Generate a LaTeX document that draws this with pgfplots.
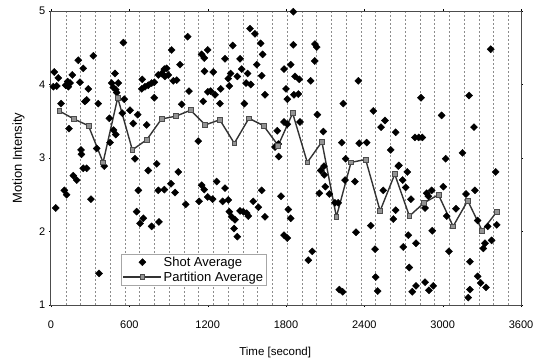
\documentclass[border=0pt]{standalone}
\usepackage{fontspec}
\setmainfont{Liberation Sans}
\usepackage{pgfplots}
\usepackage{pgfplotstable}
\pgfplotsset{compat=1.18}
\pgfplotstableread{
t v
25 4.17
56 4.09
18 3.97
44 3.98
77 3.74
138 3.40
113 3.99
128 4.04
146 4.02
163 4.13
133 3.97
209 4.33
222 4.03
247 4.22
286 3.94
273 3.79
260 3.77
324 4.39
362 3.74
350 3.13
230 3.11
233 3.05
452 3.21
447 3.54
490 4.15
465 4.02
477 3.96
515 4.02
496 3.93
503 3.89
554 4.57
561 3.80
546 3.61
605 3.65
630 3.47
664 3.59
479 3.38
496 3.32
643 2.99
699 4.07
720 3.97
695 3.94
745 3.99
771 4.02
791 4.03
791 3.82
733 3.45
822 4.13
848 4.15
868 4.21
886 4.22
873 4.11
898 4.13
924 4.47
937 4.05
963 4.06
988 4.27
1001 3.73
1047 4.65
1057 3.91
1128 3.23
1154 4.41
1174 4.36
1200 4.47
1176 4.18
1166 3.77
1201 3.90
36 2.32
102 2.56
120 2.50
171 2.76
197 2.70
247 2.86
273 2.86
306 2.44
368 1.43
408 2.89
745 2.83
810 2.92
669 2.56
656 2.27
707 2.18
682 2.11
771 2.07
827 2.13
822 2.56
868 2.57
919 2.65
950 2.53
975 2.81
1032 2.37
1134 2.41
1154 2.63
1174 2.57
1200 2.47
1243 4.17
1223 3.91
1256 3.86
1300 3.94
1294 3.74
1333 4.35
1392 4.53
1358 4.08
1376 4.15
1366 3.98
1448 4.35
1427 4.11
1461 4.21
1494 4.02
1530 4.00
1506 4.15
1481 3.74
1524 4.76
1562 4.69
1606 4.56
1621 4.41
1576 4.27
1614 4.12
1639 3.86
1733 3.37
1716 3.15
1741 3.19
1744 3.02
1785 4.21
1836 4.27
1856 4.54
1800 3.94
1810 3.80
1861 3.86
1894 3.87
1869 4.11
1902 4.07
1785 3.49
1810 3.46
1907 3.49
1856 4.99
1989 4.05
2022 4.55
2035 4.51
2020 4.32
2040 3.59
2086 3.36
2239 3.74
2227 3.21
2257 2.99
2354 4.05
2361 3.20
2469 3.64
2558 3.51
2528 3.42
2640 3.35
2418 3.21
2602 3.11
2834 3.82
2788 3.28
2816 3.28
2844 3.28
2992 3.58
3023 2.99
3152 3.07
3202 3.85
3240 3.42
3368 4.48
2665 2.90
1238 2.44
1269 2.68
1315 2.41
1358 2.43
1333 2.59
1366 2.27
1384 2.20
1409 2.16
1402 2.04
1427 1.93
1448 2.28
1473 2.27
1499 2.25
1511 2.21
1549 2.41
1588 2.33
1614 2.56
1639 2.20
1762 2.48
1818 2.30
1836 2.18
1785 1.95
1810 1.91
1971 1.61
2001 1.73
2055 2.52
2066 2.83
2091 2.89
2093 2.77
2101 2.61
2132 2.51
2175 2.39
2200 2.39
2208 1.21
2234 1.18
2252 2.70
2328 2.68
2336 1.99
2449 2.08
2482 1.76
2487 1.38
2502 1.19
2545 2.56
2660 2.89
2729 2.81
2694 2.70
2717 2.60
2640 2.29
2622 2.17
2757 2.44
2737 1.95
2698 1.79
2796 1.84
2744 1.51
2767 1.18
2796 1.26
2865 1.31
2895 1.20
2928 1.26
2878 2.52
2890 2.48
2916 2.56
2865 2.32
2920 2.01
3005 2.61
3031 2.21
3048 1.73
3102 2.31
3179 2.51
3247 2.56
3209 1.59
3196 1.10
3209 1.21
3268 1.39
3291 1.30
3332 1.24
3268 2.15
3311 1.77
3324 1.84
3375 1.88
3345 2.07
3414 2.09
3406 2.81
}\shots
\pgfplotstableread{
t v
64 3.64
176 3.53
287 3.44
399 2.94
511 3.82
623 3.11
734 3.25
846 3.53
958 3.57
1069 3.65
1181 3.45
1293 3.52
1404 3.20
1516 3.54
1628 3.44
1740 3.17
1851 3.61
1963 2.94
2075 3.22
2186 2.20
2298 2.94
2410 2.98
2521 2.28
2633 2.78
2745 2.21
2857 2.39
2968 2.50
3080 2.07
3192 2.42
3303 2.01
3415 2.27
}\parts
\begin{document}
\fontsize{10.5}{12}\selectfont
\begin{tikzpicture}
\begin{axis}[
  scale only axis, width=470pt, height=294pt,
  at={(0,0)}, anchor=south west,
  xmin=0, xmax=3600, ymin=1, ymax=5,
  xtick={0,600,...,3600}, ytick={1,2,3,4,5},
  minor xtick={113,226,...,3503},
  xminorgrids,
  minor grid style={dashed, dash pattern=on 2pt off 2pt, gray!90, line width=0.5pt},
  minor tick length=0pt,
  tick align=outside, major tick length=2pt,
  tick style={black},
  axis line style={gray!60!black, line width=1pt},
  /pgf/number format/assume math mode=true,
  /pgf/number format/set thousands separator={},
  tick label style={font=\fontsize{11}{13}\selectfont},
  xticklabel style={yshift=-10pt},
  xlabel={Time [second]}, ylabel={Motion Intensity},
  xlabel style={font=\fontsize{11.5}{13}\selectfont, at={(axis description cs:0.477,-0.16)}, anchor=center},
  ylabel style={font=\fontsize{13}{15}\selectfont, at={(axis description cs:-0.069,0.5)}, anchor=center},
  legend style={at={(axis description cs:0.149,0.065)}, anchor=south west,
    draw=gray!70, fill=white, font=\fontsize{13}{15}\selectfont,
    inner sep=1.5pt, row sep=1pt, nodes={inner sep=1.5pt}},
  legend cell align=left,
  legend image code/.code={\draw[mark repeat=2, mark phase=2, #1] plot coordinates {(0pt,0pt) (19pt,0pt) (38pt,0pt)};},
]
\addplot[only marks, mark=square*, mark size=2.5pt, mark options={rotate=45}, black] table[x=t, y=v] {\shots};
\addlegendentry{Shot Average}
\addplot[black!80, line width=1.4pt, mark=square*, mark size=2.4pt,
  mark options={fill=gray!85, draw=black!70, line width=0.7pt}] table[x=t, y=v] {\parts};
\addlegendentry{Partition Average}
\end{axis}
\pgfresetboundingbox
\path[use as bounding box] (-51pt,-57pt) rectangle (494pt,305pt);
\end{tikzpicture}
\end{document}
